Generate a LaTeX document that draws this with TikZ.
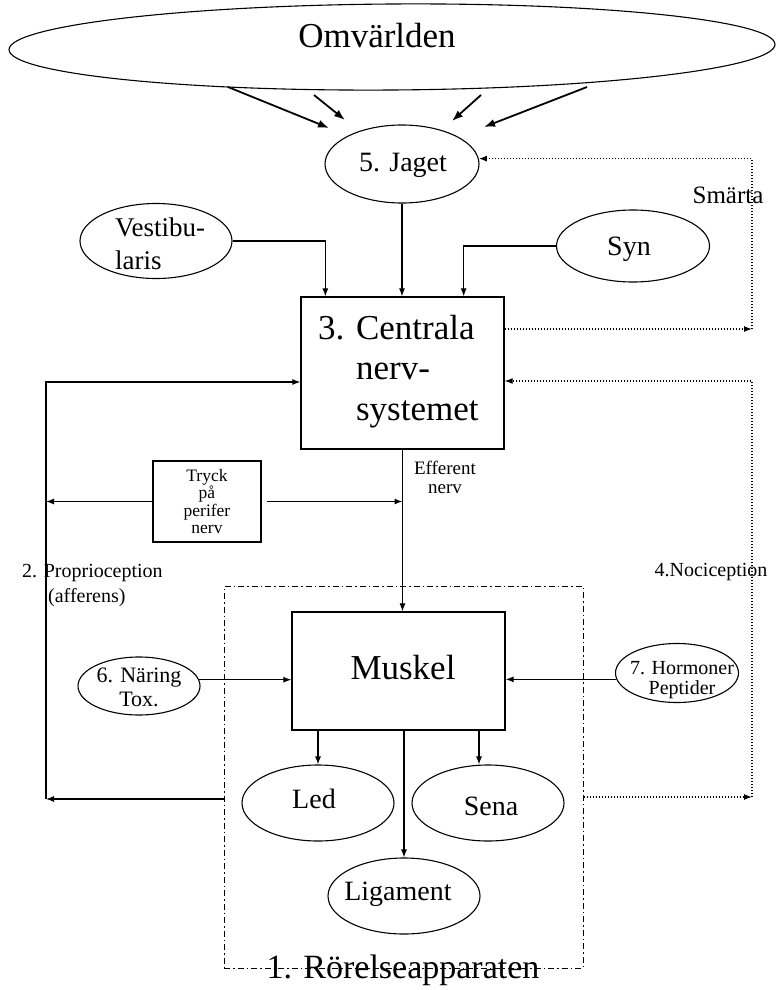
\documentclass[tikz,border=0pt]{standalone}
\usepackage{fontspec}
\setmainfont{Liberation Serif}
\usetikzlibrary{shapes.geometric,arrows.meta,calc}
\newcommand\fsz[2]{\fontsize{#1}{#2}\selectfont}
\begin{document}
\begin{tikzpicture}[x=1pt,y=-1pt,
  ell/.style={draw, ellipse, line width=1.1pt, inner sep=0pt},
  box/.style={draw, rectangle, line width=1.3pt, inner sep=0pt},
  lbl/.style={inner sep=0pt},
  arr/.style={line width=1.1pt, -{Latex[length=8pt,width=6pt]}},
  bigarr/.style={line width=1.8pt, -{Latex[length=11pt,width=8pt]}},
  darr/.style={line width=1.2pt, dash pattern=on 1.2pt off 1.8pt, -{Latex[length=8pt,width=6pt]}},
  ddot/.style={line width=1pt, dash pattern=on 6pt off 3pt on 1.5pt off 3pt},
]
\useasboundingbox (0,0) rectangle (778,990);

% Omvärlden
\node[ell, minimum width=766pt, minimum height=86pt, rotate=0.4] (omv) at (392,47) {};
\node[lbl, font={\fsz{35}{40}}] (omvt) at (377,36) {Omvärlden};

% Jaget
\node[ell, minimum width=154pt, minimum height=78pt] (jag) at (402,164) {};
\node[lbl, font={\fsz{28}{32}}] (jagt) at (403,165) {5. Jaget};

% Vestibularis, Syn
\node[ell, minimum width=152pt, minimum height=75pt] (ves) at (156,241) {};
\node[lbl, anchor=west, align=left, font={\fsz{27}{33}}] (vest) at (115,244) {Vestibu-\\laris};
\node[ell, minimum width=153pt, minimum height=72pt] (syn) at (633,246) {};
\node[lbl, font={\fsz{28}{32}}] (synt) at (629,249) {Syn};

% CNS
\node[box, minimum width=203pt, minimum height=152pt] (cns) at (402.5,373) {};
\node[lbl, anchor=west, align=left, font={\fsz{35}{40.5}}] (cnst) at (318,371.3)
  {3. Centrala\\\phantom{3. }nerv-\\\phantom{3. }systemet};

% Tryck
\node[box, line width=1.1pt, minimum width=108pt, minimum height=81pt, align=center, font={\fsz{17.5}{17.5}}] (tryck) at (207,501.5) {Tryck\\på\\perifer\\nerv};

% labels
\node[lbl, align=center, font={\fsz{19}{19}}] (eff) at (445,477) {Efferent\\nerv};
\node[lbl, anchor=west, align=left, font={\fsz{20}{25}}] (prop) at (22,586) {2. Proprioception\\\hspace*{26pt}(afferens)};
\node[lbl, font={\fsz{20}{24}}] (noci) at (711,572) {4.Nociception};
\node[lbl, font={\fsz{25}{28}}] (smart) at (728,195) {Smärta};

% Rörelseapparaten
\node[lbl, font={\fsz{34}{40}}] (rort) at (403,970) {1. Rörelseapparaten};
\node[draw, ddot, inner sep=0pt, minimum width=359pt, minimum height=382pt] (ror) at (403.5,777) {};

% Muskel
\node[box, minimum width=213pt, minimum height=118pt] (musk) at (398.5,671) {};
\node[lbl, font={\fsz{35}{40}}] (muskt) at (403,668) {Muskel};

% Näring, Hormoner
\node[ell, minimum width=122pt, minimum height=58pt] (nar) at (139,686) {};
\node[lbl, align=center, font={\fsz{22}{24}}] (nart) at (139,687.5) {6. Näring\\Tox.};
\node[ell, minimum width=123pt, minimum height=59pt] (hor) at (677,673) {};
\node[lbl, align=center, font={\fsz{20}{20}}] (hort) at (682,680) {7. Hormoner\\Peptider};

% Led, Sena, Ligament
\node[ell, minimum width=152pt, minimum height=76pt] (led) at (318,803) {};
\node[lbl, font={\fsz{28}{32}}] (ledt) at (314,798.5) {Led};
\node[ell, minimum width=152pt, minimum height=76pt] (sena) at (488,803) {};
\node[lbl, font={\fsz{28}{32}}] (senat) at (491,806) {Sena};
\node[ell, minimum width=152pt, minimum height=76pt] (lig) at (404,896) {};
\node[lbl, font={\fsz{28}{32}}] (ligt) at (398,894) {Ligament};

% Omvärlden -> Jaget
\coordinate (o1) at (228,87); \coordinate (j1) at (329,128);
\coordinate (o2) at (314,95); \coordinate (j2) at (345,120);
\coordinate (o3) at (481,95); \coordinate (j3) at (452,121);
\coordinate (o4) at (587,87); \coordinate (j4) at (484,127);
\draw[bigarr] (o1) -- (j1);
\draw[bigarr] (o2) -- (j2);
\draw[bigarr] (o3) -- (j3);
\draw[bigarr] (o4) -- (j4);

% into CNS
\draw[arr] (ves.east) -| ($(cns.north west)+(25,0)$);
\draw[arr] (jag.south) -- (jag.south |- cns.north);
\draw[arr] (syn.west) -| ($(cns.north east)+(-41,0)$);

% Smärta loop
\coordinate (sm) at (752,329);
\draw[darr] (cns.east |- sm) -- (sm);
\draw[darr] (sm) -- (sm |- jag.4) -- (jag.4);

% Proprioception
\coordinate (pl) at (46,799);
\coordinate (pt) at (46,382);
\draw[arr] (ror.west |- pl) -- (pl);
\draw[arr] (pl) -- (pt) -- (cns.west |- pt);
\draw[arr] (tryck.west) -- (pl |- tryck.west);
\draw[arr] ([xshift=5pt]tryck.east) -- (cns.south |- tryck.east);

% Efferent
\draw[arr] (cns.south) -- (cns.south |- musk.north);

% Nociception loop
\coordinate (nr) at (752,797);
\draw[darr] (ror.east |- nr) -- (nr);
\draw[darr] (nr) -- (nr |- 0,381) -- (cns.east |- 0,381);

% Näring, Hormoner
\draw[arr] (nar.6) -- (musk.west |- nar.6);
\draw[arr] (hor.186) -- (musk.east |- hor.186);

% Muskel -> Led, Sena, Ligament
\draw[arr] (musk.south -| led.north) -- (led.north);
\draw[arr] (musk.south -| lig.north) -- (lig.north);
\draw[arr] (musk.south -| 479,0) -- (sena.north -| 479,0);
\end{tikzpicture}
\end{document}
